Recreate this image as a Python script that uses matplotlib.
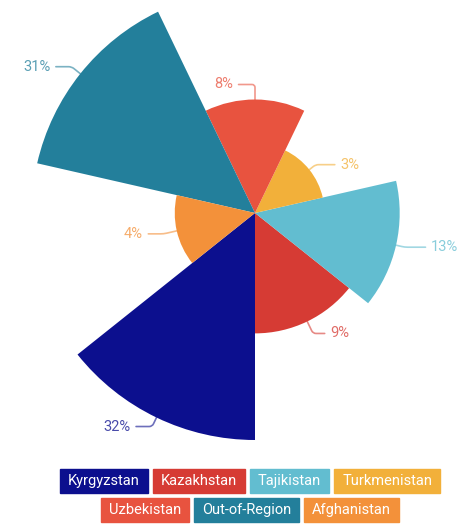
import numpy as np
import matplotlib
matplotlib.use("Agg")
import matplotlib.pyplot as plt

# data (legend order)
countries = ["Kyrgyzstan", "Kazakhstan", "Tajikistan", "Turkmenistan",
             "Uzbekistan", "Out-of-Region", "Afghanistan"]
shares = [32, 9, 13, 3, 8, 31, 4]
colors = ["#0c0f8e", "#d63b34", "#62bdd0", "#f2b03a",
          "#e8533f", "#237f9b", "#f3913a"]
# label offsets (pixels) from the middle of each arc
label_offsets = [(-26, -9), (23, -12), (35, -2), (31, 5),
                 (-22, 15), (-30, 7), (-34, -3)]
legend_rows = [countries[:4], countries[4:]]

FONT = ["Roboto", "DejaVu Sans"]

fig = plt.figure(figsize=(4.65, 5.24), dpi=100)
W, H = 465, 524
cx, cy, R = 255, 213, 230          # centre and axes radius in pixels
ax = fig.add_axes([(cx - R) / W, (H - cy - R) / H, 2 * R / W, 2 * R / H],
                  projection="polar")
ax.set_theta_zero_location("N")
ax.set_theta_direction(-1)

n = len(countries)
width = 2 * np.pi / n
# sectors run counter-clockwise, first one starting at 6 o'clock
theta = np.pi + width / 2 - np.arange(n) * width
radius = np.sqrt(shares)            # area proportional to share
ax.bar(theta, radius, width=width, color=colors, linewidth=0, align="center")
ax.set_ylim(0, np.sqrt(max(shares)) * R / 227)
ax.set_axis_off()

for th, r, val, col, off in zip(theta, radius, shares, colors, label_offsets):
    math_ang = 90 - np.degrees(th)
    ax.annotate(f"{val}%", xy=(th, r), xytext=off, textcoords="offset pixels",
                ha="left" if off[0] > 0 else "right", va="center",
                fontsize=10.5, color=col, alpha=0.75, family=FONT,
                arrowprops=dict(arrowstyle="-", color=col, alpha=0.6, lw=1.2,
                                shrinkA=2, shrinkB=0,
                                connectionstyle=f"angle,angleA=0,angleB={math_ang:.1f},rad=3"))

# legend: coloured boxes with white text, two centred rows
col_of = dict(zip(countries, colors))
renderer = fig.canvas.get_renderer()
row_y = [481, 510]
gap, padx = 5, 8
for names, y in zip(legend_rows, row_y):
    texts = [fig.text(0, 1 - y / H, nm, color="white", fontsize=10.5, family=FONT,
                      ha="center", va="center") for nm in names]
    widths = [t.get_window_extent(renderer).width + 2 * padx for t in texts]
    total = sum(widths) + gap * (len(widths) - 1)
    x = 250 - total / 2
    for t, w, nm in zip(texts, widths, names):
        t.set_x((x + w / 2) / W)
        fig.patches.append(plt.Rectangle(((x) / W, 1 - (y + 12) / H), w / W, 24 / H,
                                         transform=fig.transFigure, color=col_of[nm],
                                         zorder=0))
        x += w + gap

fig.savefig("out.png", dpi=100)
